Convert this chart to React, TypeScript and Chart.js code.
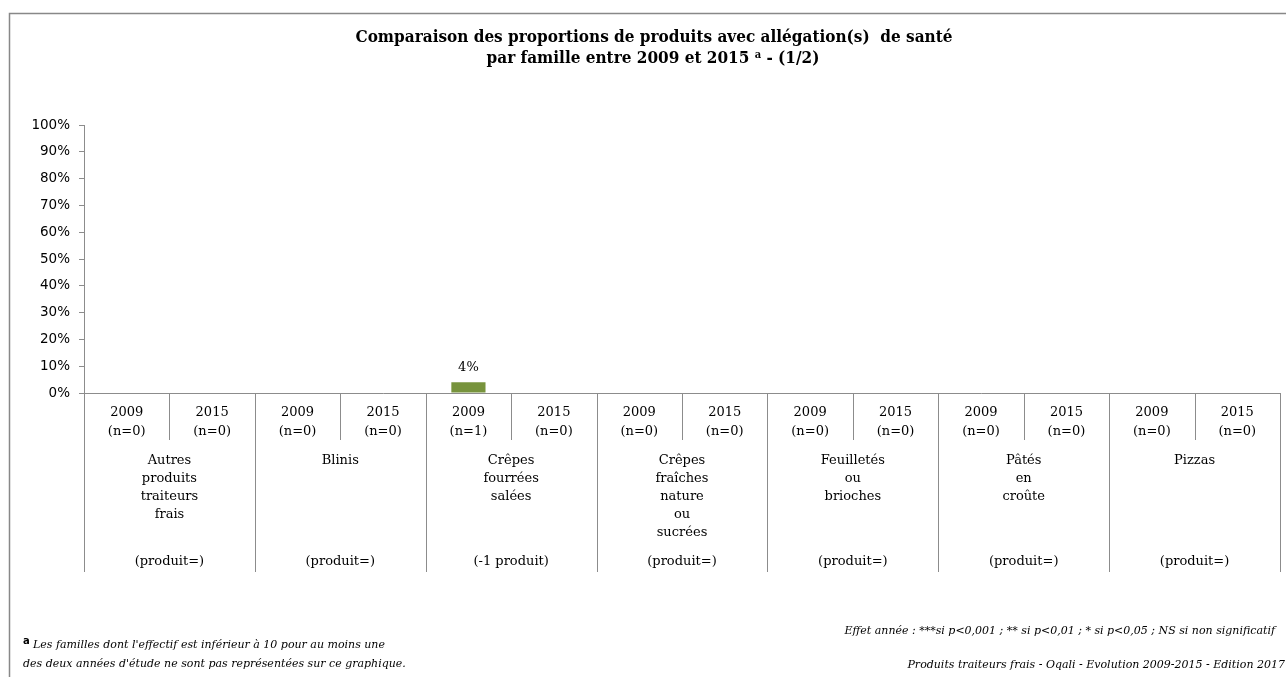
import React, { useEffect, useRef } from "react";
import { Chart, registerables } from "chart.js";

Chart.register(...registerables);

// ---- data ----
const familyNames: string[][] = [
  ["Autres", "produits", "traiteurs", "frais"],
  ["Blinis"],
  ["Crêpes", "fourrées", "salées"],
  ["Crêpes", "fraîches", "nature", "ou", "sucrées"],
  ["Feuilletés", "ou", "brioches"],
  ["Pâtés", "en", "croûte"],
  ["Pizzas"],
];
const years: string[] = ["2009", "2015"];
const sampleSizes: number[] = [0, 0, 0, 0, 1, 0, 0, 0, 0, 0, 0, 0, 0, 0];
const proportions: (number | null)[] = [null, null, null, null, 4, null, null, null, null, null, null, null, null, null];
const evolutions: string[] = [
  "(produit=)",
  "(produit=)",
  "(-1 produit)",
  "(produit=)",
  "(produit=)",
  "(produit=)",
  "(produit=)",
];
const titleLine1 = "Comparaison des proportions de produits avec allégation(s)  de santé";
const titleLine2a = "par famille entre 2009 et 2015 ";
const titleLine2b = " - (1/2)";
const footLeft1 = "Les familles dont l'effectif est inférieur à 10 pour au moins une";
const footLeft2 = "des deux années d'étude ne sont pas représentées sur ce graphique.";
const footRight1 = "Effet année : ***si p<0,001 ; ** si p<0,01 ; * si p<0,05 ; NS si non significatif";
const footRight2 = "Produits traiteurs frais - Oqali - Evolution 2009-2015 - Edition 2017";

const subLabels: string[] = [];
familyNames.forEach(() => years.forEach((y) => subLabels.push(y)));

const GREY = "#8c8c8c";
const SERIF = "'DejaVu Serif', serif";
const TITLE_FONT = `bold 17px 'DejaVu Serif Condensed', ${SERIF}`;
const TITLE_SUP = `bold 11px 'DejaVu Serif Condensed', ${SERIF}`;

const tablePlugin = {
  id: "tablePlugin",
  afterDraw(chart: any) {
    const ctx: CanvasRenderingContext2D = chart.ctx;
    const xs = chart.scales.x;
    const ys = chart.scales.y;
    const bottom = chart.chartArea.bottom;
    const n = subLabels.length;
    const centers = subLabels.map((_, i) => xs.getPixelForValue(i));
    const half = (centers[1] - centers[0]) / 2;
    ctx.save();

    // frame
    ctx.strokeStyle = "#888888";
    ctx.lineWidth = 1.5;
    ctx.strokeRect(9.5, 13.5, 1400, 800);

    // title
    ctx.fillStyle = "#000";
    ctx.textBaseline = "middle";
    ctx.textAlign = "center";
    ctx.font = TITLE_FONT;
    ctx.fillText(titleLine1, 654, 38);
    const wA = ctx.measureText(titleLine2a).width;
    const wB = ctx.measureText(titleLine2b).width;
    ctx.font = TITLE_SUP;
    const wS = ctx.measureText("a").width;
    const total = wA + wB + wS;
    const tx = 653 - total / 2;
    ctx.textAlign = "left";
    ctx.font = TITLE_FONT;
    ctx.fillText(titleLine2a, tx, 59);
    ctx.font = TITLE_SUP;
    ctx.fillText("a", tx + wA, 55);
    ctx.font = TITLE_FONT;
    ctx.fillText(titleLine2b, tx + wA + wS, 59);

    // table lines
    ctx.strokeStyle = GREY;
    ctx.lineWidth = 1;
    for (let i = 0; i <= n; i++) {
      const x = Math.round(i < n ? centers[i] - half : centers[n - 1] + half) + 0.5;
      const isGroup = i % 2 === 0;
      ctx.beginPath();
      ctx.moveTo(x, bottom);
      ctx.lineTo(x, isGroup ? 572 : 440);
      ctx.stroke();
    }

    // year labels
    ctx.fillStyle = "#000";
    ctx.textAlign = "center";
    ctx.textBaseline = "middle";
    ctx.font = `13px ${SERIF}`;
    subLabels.forEach((lab, i) => {
      ctx.fillText(lab, centers[i], 413);
      ctx.fillText(`(n=${sampleSizes[i]})`, centers[i], 432);
    });

    // family names and evolution
    familyNames.forEach((lines, g) => {
      const cx = (centers[2 * g] + centers[2 * g + 1]) / 2;
      lines.forEach((l, k) => ctx.fillText(l, cx, 461 + 18 * k));
      ctx.fillText(evolutions[g], cx, 562);
    });

    // data labels
    proportions.forEach((v, i) => {
      if (v === null) return;
      const top = ys.getPixelForValue(v);
      ctx.fillText(`${v}%`, centers[i], top - 15);
    });

    // footnotes
    ctx.textAlign = "left";
    ctx.font = `bold 10px 'DejaVu Sans', sans-serif`;
    ctx.fillText("a", 23, 641);
    ctx.font = `italic 11px ${SERIF}`;
    ctx.fillText(footLeft1, 33, 645);
    ctx.fillText(footLeft2, 23, 664);
    ctx.textAlign = "right";
    ctx.fillText(footRight1, 1275, 631);
    ctx.fillText(footRight2, 1285, 665);

    ctx.restore();
  },
};

export default function App() {
  const ref = useRef<HTMLCanvasElement | null>(null);
  useEffect(() => {
    if (!ref.current) return;
    const chart = new Chart(ref.current, {
      type: "bar",
      data: {
        labels: subLabels,
        datasets: [
          {
            data: proportions as any,
            backgroundColor: "#77933C",
            categoryPercentage: 1,
            barPercentage: 0.4,
          },
        ],
      },
      options: {
        animation: false,
        responsive: true,
        maintainAspectRatio: false,
        layout: { padding: { top: 125, left: 0, right: 6, bottom: 0 } },
        plugins: { legend: { display: false }, tooltip: { enabled: false }, title: { display: false } },
        scales: {
          x: {
            type: "category",
            grid: { display: false },
            ticks: { display: false },
            border: { display: true, color: GREY, width: 1 },
            afterFit: (s: any) => {
              s.height = 284;
            },
          },
          y: {
            min: 0,
            max: 100,
            ticks: {
              stepSize: 10,
              callback: (v: any) => `${v}%`,
              color: "#000",
              font: { family: "'DejaVu Sans', sans-serif", size: 13.5 },
              padding: 9,
            },
            grid: { drawOnChartArea: false, tickLength: 5, color: GREY },
            border: { display: true, color: GREY, width: 1 },
            afterFit: (s: any) => {
              s.width = 84;
            },
          },
        },
      },
      plugins: [tablePlugin],
    });
    return () => chart.destroy();
  }, []);
  return (
    <div style={{ position: "fixed", left: 0, top: 0, width: 1286, height: 677, background: "#fff" }}>
      <canvas ref={ref} />
    </div>
  );
}
